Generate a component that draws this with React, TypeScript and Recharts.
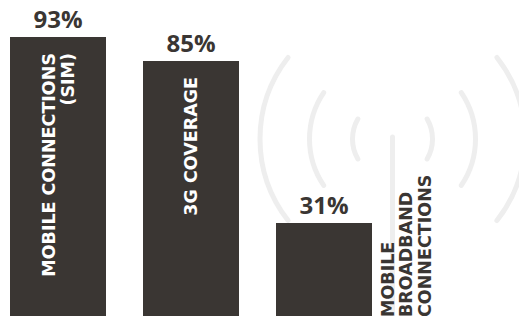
import React from 'react';
import { BarChart, Bar, XAxis, YAxis, LabelList, Customized } from 'recharts';

const categories = ['Mobile connections (SIM)', '3G coverage', 'Mobile broadband connections'];
const values = [93, 85, 31];
const nameLines = [
	['MOBILE CONNECTIONS', '(SIM)'],
	['3G COVERAGE'],
	['MOBILE', 'BROADBAND', 'CONNECTIONS'],
];

const data = categories.map((name, i) => ({ name, value: values[i], lines: nameLines[i] }));

const DARK = '#3a3633';
const ICON = '#eeeeee';
const LINE_GAP = 18.5;
const CAP = 12.8;

// faint radio mast drawn behind the bars
const RadioIcon = () => {
	const cx = 392.5;
	const cy = 139;
	const rings = [
		{ r: 40, a: 30 },
		{ r: 83, a: 34 },
		{ r: 132.5, a: 38 },
	];
	const arc = (r: number, a: number, side: number) => {
		const rad = (a * Math.PI) / 180;
		const x = cx + side * r * Math.cos(rad);
		const y1 = cy - r * Math.sin(rad);
		const y2 = cy + r * Math.sin(rad);
		return `M${x},${y1} A${r},${r} 0 0 ${side > 0 ? 1 : 0} ${x},${y2}`;
	};
	return (
		<g stroke={ICON} strokeWidth={5} fill="none" strokeLinecap="round">
			{rings.map((g, i) => (
				<React.Fragment key={i}>
					<path d={arc(g.r, g.a, -1)} />
					<path d={arc(g.r, g.a, 1)} />
				</React.Fragment>
			))}
			<line x1={cx} y1={137} x2={cx} y2={330} />
		</g>
	);
};

const ValueLabel = (props: any) => {
	const { x, y, width, value } = props;
	return (
		<text
			x={x + width / 2}
			y={y - 9}
			textAnchor="middle"
			fill={DARK}
			fontFamily="'Open Sans', sans-serif"
			fontWeight={700}
			fontSize={24}
		>
			{value}%
		</text>
	);
};

const NameLabel = (props: any) => {
	const { x, y, width, height, index } = props;
	const lines = nameLines[index];
	const inside = height > 200;
	let bx: number;
	let ty: number;
	if (inside) {
		const block = (lines.length - 1) * LINE_GAP + CAP;
		bx = x + width / 2 - block / 2 + CAP;
		ty = y + 16;
	} else {
		bx = x + width + 9 + CAP;
		ty = y + height + 1;
	}
	return (
		<text
			transform={`translate(${bx},${ty}) rotate(-90)`}
			textAnchor={inside ? 'end' : 'start'}
			fill={inside ? '#ffffff' : DARK}
			fontFamily="'DejaVu Sans', sans-serif"
			fontWeight={700}
			fontSize={17.5}
		>
			{lines.map((l: string, i: number) => (
				<tspan key={i} x={0} y={i * LINE_GAP}>
					{l}
				</tspan>
			))}
		</text>
	);
};

export default function App() {
	return (
		<div style={{ position: 'absolute', left: 0, top: 0, width: 519, height: 316, background: '#fff' }}>
			<BarChart
				width={519}
				height={316}
				data={data}
				margin={{ top: 16, right: 129, bottom: 0, left: -9 }}
			>
				<Customized component={RadioIcon} />
				<XAxis dataKey="name" hide />
				<YAxis domain={[0, 100]} hide />
				<Bar dataKey="value" fill={DARK} barSize={96} isAnimationActive={false}>
					<LabelList dataKey="value" content={ValueLabel} />
					<LabelList dataKey="name" content={NameLabel} />
				</Bar>
			</BarChart>
		</div>
	);
}
